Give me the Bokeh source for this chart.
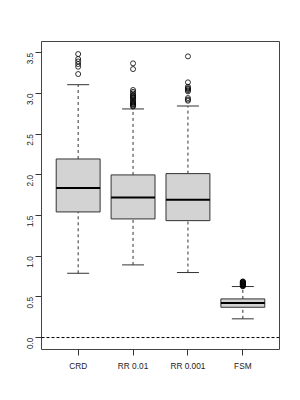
import math
from bokeh.plotting import figure
from bokeh.models import Range1d, FixedTicker, Span, ColumnDataSource
from bokeh.embed import file_html
from bokeh.resources import INLINE

# ---- data ----
categories = ["CRD", "RR 0.01", "RR 0.001", "FSM"]
lower_whisker = [0.79, 0.893, 0.799, 0.23]
q1 = [1.544, 1.458, 1.437, 0.372]
median = [1.839, 1.720, 1.695, 0.426]
q3 = [2.195, 1.999, 2.015, 0.475]
upper_whisker = [3.108, 2.81, 2.846, 0.627]

outliers_crd = [3.485, 3.424, 3.394, 3.362, 3.329, 3.239]
outliers_rr01 = [3.37, 3.30, 3.043, 3.02, 3.00, 2.98, 2.97, 2.955, 2.944,
                 2.93, 2.91, 2.895, 2.883, 2.87, 2.862, 2.85, 2.84]
outliers_rr001 = [3.456, 3.137, 3.083, 3.065, 3.055, 3.04, 3.026, 2.944,
                  2.925, 2.911]
outliers_fsm = [0.69, 0.685, 0.68, 0.675, 0.67, 0.665, 0.66, 0.655, 0.65,
                0.645, 0.64, 0.635, 0.63]
outliers = [outliers_crd, outliers_rr01, outliers_rr001, outliers_fsm]

y_ticks = [0.0, 0.5, 1.0, 1.5, 2.0, 2.5, 3.0, 3.5]
reference_line = 0.0

# ---- layout ----
pos = list(range(1, len(categories) + 1))
box_w = 0.8
cap_w = 0.4

p = figure(width=292, height=392, frame_width=238, frame_height=308,
           output_backend="svg", toolbar_location=None,
           x_range=Range1d(0.332, 4.668), y_range=Range1d(-0.147, 3.639),
           min_border_left=41, min_border_top=41, min_border_right=13,
           min_border_bottom=43, background_fill_color="white",
           border_fill_color="white")
p.outline_line_color = "#444444"
p.outline_line_width = 1
p.xgrid.visible = False
p.ygrid.visible = False

font = "Liberation Sans"
for ax in (p.xaxis[0], p.yaxis[0]):
    ax.axis_line_color = None
    ax.major_tick_in = 0
    ax.major_tick_out = 6
    ax.minor_tick_line_color = None
    ax.major_tick_line_color = "#333333"
    ax.major_label_text_font = font
    ax.major_label_text_font_size = "8.3px"
    ax.major_label_text_color = "#222222"
    ax.major_label_standoff = 5

p.xaxis.ticker = FixedTicker(ticks=pos)
p.xaxis.major_label_overrides = {x: c for x, c in zip(pos, categories)}
p.yaxis.ticker = FixedTicker(ticks=y_ticks)
p.yaxis.major_label_overrides = {t: f"{t:.1f}" for t in y_ticks}
p.yaxis.major_label_orientation = math.pi / 2

src = ColumnDataSource(dict(
    x=pos, lw=lower_whisker, q1=q1, med=median, q3=q3, uw=upper_whisker,
    cl=[x - cap_w / 2 for x in pos], cr=[x + cap_w / 2 for x in pos],
    bl=[x - box_w / 2 for x in pos], br=[x + box_w / 2 for x in pos]))

# whiskers (dashed)
p.segment(x0="x", y0="q3", x1="x", y1="uw", source=src, line_color="#333333",
          line_dash="3 3", line_width=1)
p.segment(x0="x", y0="lw", x1="x", y1="q1", source=src, line_color="#333333",
          line_dash="3 3", line_width=1)
# caps
p.segment(x0="cl", y0="uw", x1="cr", y1="uw", source=src,
          line_color="#333333", line_width=1)
p.segment(x0="cl", y0="lw", x1="cr", y1="lw", source=src,
          line_color="#333333", line_width=1)
# boxes
p.quad(left="bl", right="br", bottom="q1", top="q3", source=src,
       fill_color="#D3D3D3", line_color="#333333", line_width=1)
# medians
p.segment(x0="bl", y0="med", x1="br", y1="med", source=src,
          line_color="black", line_width=2)

# outliers
ox, oy = [], []
for x, vals in zip(pos, outliers):
    ox += [x] * len(vals)
    oy += vals
p.scatter(ox, oy, marker="circle", size=5, fill_color=None,
          line_color="black", line_width=0.8)

p.add_layout(Span(location=reference_line, dimension="width",
                  line_color="black", line_dash="3 2", line_width=1))

open("out.html", "w").write(file_html(p, INLINE))
